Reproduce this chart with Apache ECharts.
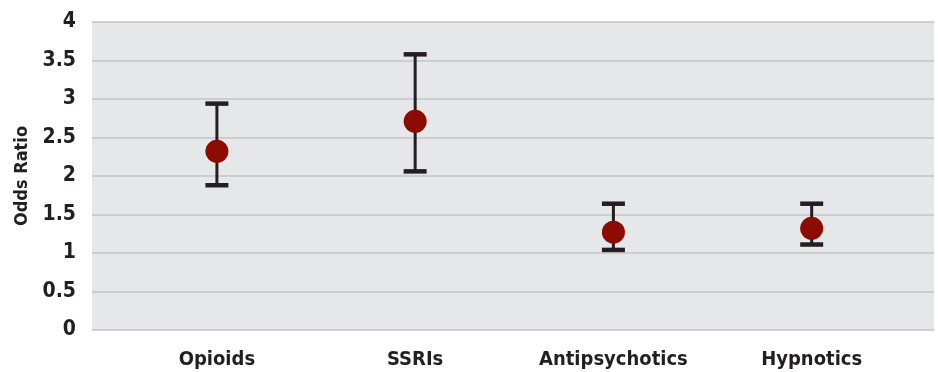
<!DOCTYPE html>
<html><head><meta charset="utf-8">
<script src="https://cdn.jsdelivr.net/npm/echarts@6/dist/echarts.min.js"></script>
<style>html,body{margin:0;padding:0;background:#fff}#c{width:938px;height:372px}</style>
</head><body><div id="c"></div>
<script>
const categories = ['Opioids', 'SSRIs', 'Antipsychotics', 'Hypnotics'];
const oddsRatio = [2.32, 2.71, 1.27, 1.32];
const lowerCI = [1.88, 2.06, 1.04, 1.11];
const upperCI = [2.94, 3.58, 1.64, 1.64];
const yTicks = [0, 0.5, 1, 1.5, 2, 2.5, 3, 3.5, 4];

const font = '"Liberation Sans Narrow", "DejaVu Sans Condensed", sans-serif';
const chart = echarts.init(document.getElementById('c'));
const idx = categories.map((_, i) => i);
chart.setOption({
  animation: false,
  grid: { left: 92, right: 4, top: 22, bottom: 42, show: true, backgroundColor: '#e6e7e9', borderWidth: 0 },
  xAxis: {
    type: 'value', min: -0.63, max: 3.617,
    axisLine: { show: false }, axisTick: { show: false }, splitLine: { show: false },
    axisLabel: {
      customValues: idx,
      formatter: v => categories[Math.round(v)],
      fontFamily: font, fontWeight: 'bold', fontSize: 20, color: '#231f20', margin: 20
    }
  },
  yAxis: {
    type: 'value', min: 0, max: 4, interval: 0.5,
    name: 'Odds Ratio', nameLocation: 'middle', nameGap: 60, nameRotate: 90,
    nameTextStyle: { fontFamily: font, fontWeight: 'bold', fontSize: 18, color: '#231f20' },
    axisLine: { show: false }, axisTick: { show: false },
    splitLine: { lineStyle: { color: '#c4c5c7', width: 1.5 } },
    axisLabel: { fontFamily: font, fontWeight: 'bold', fontSize: 21, color: '#231f20', margin: 16,
      formatter: v => String(v) }
  },
  series: [
    {
      type: 'custom',
      data: idx.map(i => [i, lowerCI[i], upperCI[i]]),
      renderItem: (params, api) => {
        const x = api.value(0);
        const lo = api.coord([x, api.value(1)]);
        const hi = api.coord([x, api.value(2)]);
        const cw = 11.5, ch = 4.5;
        const st = { fill: '#231f20', stroke: null };
        return { type: 'group', children: [
          { type: 'line', shape: { x1: lo[0], y1: lo[1], x2: hi[0], y2: hi[1] }, style: { stroke: '#231f20', lineWidth: 3 } },
          { type: 'rect', shape: { x: hi[0] - cw, y: hi[1] - ch / 2, width: cw * 2, height: ch }, style: st },
          { type: 'rect', shape: { x: lo[0] - cw, y: lo[1] - ch / 2, width: cw * 2, height: ch }, style: st }
        ]};
      },
      z: 2
    },
    {
      type: 'scatter',
      data: idx.map(i => [i, oddsRatio[i]]),
      symbolSize: 23,
      itemStyle: { color: '#8c0b02', opacity: 1 },
      z: 3
    }
  ]
});
</script></body></html>
